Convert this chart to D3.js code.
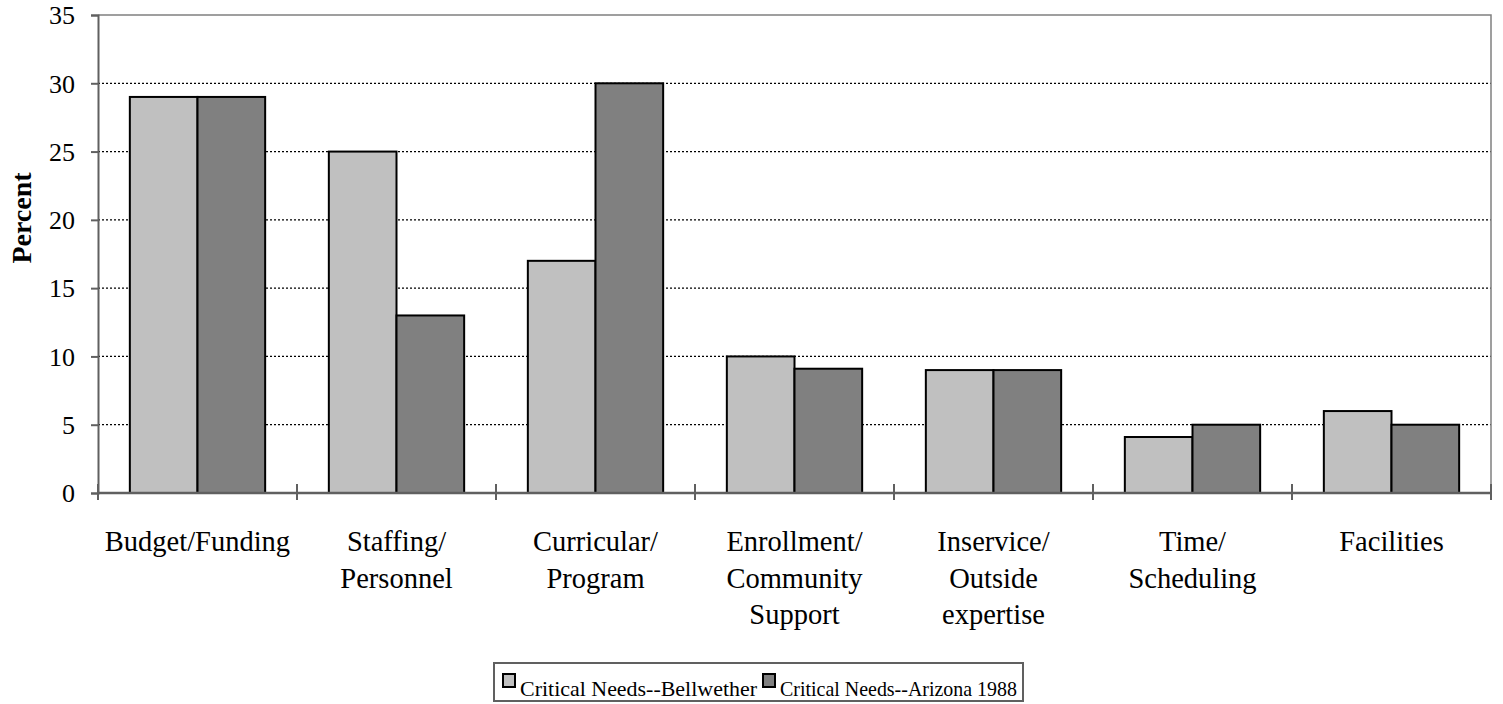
<!DOCTYPE html>
<html><head><meta charset="utf-8">
<script src="https://cdn.jsdelivr.net/npm/d3@7"></script>
<style>body{margin:0;background:#fff}svg{display:block}text{font-family:"Liberation Serif",serif;fill:#000}</style>
</head><body><svg id="c" width="1503" height="704"></svg>
<script>
const categories = [["Budget/Funding"],["Staffing/","Personnel"],["Curricular/","Program"],["Enrollment/","Community","Support"],["Inservice/","Outside","expertise"],["Time/","Scheduling"],["Facilities"]];
const seriesNames = ["Critical Needs--Bellwether","Critical Needs--Arizona 1988"];
const bellwether = [29,25,17,10,9,4.1,6];
const arizona = [29,13,30,9.1,9,5,5];
const yTicks = [0,5,10,15,20,25,30,35];
const colors = ["#c0c0c0","#808080"];

const svg = d3.select("#c");
const L=98, R=1491, T=15, B=493;
const x = d3.scaleBand().domain(d3.range(categories.length)).range([L,R]).paddingInner(0.32).paddingOuter(0.16);
const y = d3.scaleLinear().domain([0,35]).range([B,T]);

// gridlines
svg.append("g").selectAll("line").data(yTicks.filter(d=>d>0&&d<35)).join("line")
  .attr("x1",L).attr("x2",R).attr("y1",d=>y(d)).attr("y2",d=>y(d))
  .attr("stroke","#000").attr("stroke-width",1.2).attr("stroke-dasharray","2,2");
// frame top/right
svg.append("path").attr("d",`M${L},${T}H${R}V${B}`).attr("fill","none").attr("stroke","#808080").attr("stroke-width",1.5);

// bars
const sub = d3.scaleBand().domain([0,1]).range([0,x.bandwidth()]);
[bellwether, arizona].forEach((vals,si)=>{
  svg.append("g").selectAll("rect").data(vals).join("rect")
    .attr("x",(d,i)=>x(i)+sub(si)).attr("width",sub.bandwidth())
    .attr("y",d=>y(d)).attr("height",d=>B-y(d))
    .attr("fill",colors[si]).attr("stroke","#000").attr("stroke-width",2);
});

// y axis
const ya = svg.append("g").attr("transform",`translate(${L},0)`)
  .call(d3.axisLeft(y).tickValues(yTicks).tickSize(7).tickPadding(16));
ya.attr("font-family",null);
ya.select(".domain").attr("stroke","#606060").attr("stroke-width",2);
ya.selectAll(".tick line").attr("stroke","#606060").attr("stroke-width",2);
ya.selectAll(".tick text").attr("font-size",26).attr("dy","0.34em");

// x axis
const xt = d3.scaleLinear().domain([0,categories.length]).range([L,R]);
const xa = svg.append("g").attr("transform",`translate(0,${B})`);
xa.append("line").attr("x1",L).attr("x2",R).attr("stroke","#606060").attr("stroke-width",2.5);
xa.selectAll("line.t").data(d3.range(categories.length+1)).join("line").attr("class","t")
  .attr("x1",d=>xt(d)).attr("x2",d=>xt(d)).attr("y1",-9).attr("y2",7)
  .attr("stroke","#606060").attr("stroke-width",2);
const labels = svg.append("g").selectAll("text").data(categories).join("text")
  .attr("x",(d,i)=>x(i)+x.bandwidth()/2).attr("y",551)
  .attr("text-anchor","middle").attr("font-size",28.5);
labels.each(function(lines){
  d3.select(this).selectAll("tspan").data(lines).join("tspan")
    .attr("x",d3.select(this).attr("x")).attr("dy",(d,j)=>j?36.5:0).text(d=>d);
});

// y label
svg.append("text").attr("transform","translate(31,218) rotate(-90)")
  .attr("text-anchor","middle").attr("font-size",28).attr("font-weight","bold").text("Percent");

// legend
const lg = svg.append("g");
const box = lg.append("rect").attr("x",494).attr("y",663).attr("height",38)
  .attr("fill","#fff").attr("stroke","#606060").attr("stroke-width",2);
let cx = 503;
const maxLen = 237;
seriesNames.forEach((n,i)=>{
  lg.append("rect").attr("x",cx).attr("y",674).attr("width",12).attr("height",13)
    .attr("fill",colors[i]).attr("stroke","#000").attr("stroke-width",2);
  const t = lg.append("text").attr("x",cx+17).attr("y",696).attr("font-size",22).text(n);
  let w = t.node().getComputedTextLength();
  if (w > maxLen) { t.attr("textLength",maxLen).attr("lengthAdjust","spacingAndGlyphs"); w = maxLen; }
  cx = cx + 17 + w + 6;
});
box.attr("width", cx - 494);
</script></body></html>
